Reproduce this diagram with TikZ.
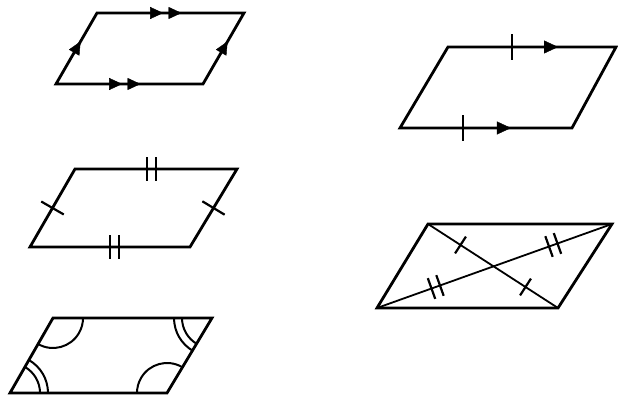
\documentclass[tikz,border=0pt]{standalone}
\usetikzlibrary{arrows.meta,decorations.markings}
\tikzset{
  edge/.style={line width=2.8pt, line join=miter},
  diag/.style={line width=1.8pt},
  anglearc/.style={line width=2pt},
  arrowat/.style={postaction={decorate,decoration={markings,
      mark=at position #1 with {\arrow{Triangle[length=13pt,width=12pt]}}}}},
  bigarrowat/.style={postaction={decorate,decoration={markings,
      mark=at position #1 with {\arrow{Triangle[length=14pt,width=13pt]}}}}},
  onetick/.style 2 args={postaction={decorate,decoration={markings,
      mark=at position #1 with {\draw[line width=2.2pt] (0,-#2) -- (0,#2);}}}},
  twotick/.style 2 args={postaction={decorate,decoration={markings,
      mark=at position #1 with {\draw[line width=2.2pt] (-4.5,-#2) -- (-4.5,#2) (4.5,-#2) -- (4.5,#2);}}}},
}
\begin{document}
\begin{tikzpicture}[x=1pt,y=1pt]
\useasboundingbox (0,0) rectangle (618,398);
% shape 1: arrows
\coordinate (A1) at (56,314); \coordinate (B1) at (203,314);
\coordinate (C1) at (244,385); \coordinate (D1) at (97,385);
\draw[edge] (A1) -- (B1) -- (C1) -- (D1) -- cycle;
\path[arrowat=0.45, arrowat=0.575] (A1) -- (B1);
\path[arrowat=0.45, arrowat=0.575] (D1) -- (C1);
\path[arrowat=0.6] (A1) -- (D1);
\path[arrowat=0.6] (B1) -- (C1);
% shape 2: one pair parallel and equal
\coordinate (A2) at (400,270); \coordinate (B2) at (572,270);
\coordinate (C2) at (616,351); \coordinate (D2) at (448,351);
\draw[edge] (A2) -- (B2) -- (C2) -- (D2) -- cycle;
\path[bigarrowat=0.645, onetick={0.366}{13}] (A2) -- (B2);
\path[bigarrowat=0.655, onetick={0.38}{13}] (D2) -- (C2);
% shape 3: opposite sides equal
\coordinate (A3) at (30,151); \coordinate (B3) at (190,151);
\coordinate (C3) at (237,229); \coordinate (D3) at (75,229);
\draw[edge] (A3) -- (B3) -- (C3) -- (D3) -- cycle;
\path[twotick={0.53}{12}] (A3) -- (B3);
\path[twotick={0.47}{12}] (D3) -- (C3);
\path[onetick={0.5}{13}] (A3) -- (D3);
\path[onetick={0.5}{13}] (B3) -- (C3);
% shape 4: diagonals bisect
\coordinate (A4) at (377,90); \coordinate (B4) at (558,90);
\coordinate (C4) at (612,174); \coordinate (D4) at (428,174);
\draw[edge] (A4) -- (B4) -- (C4) -- (D4) -- cycle;
\draw[diag, onetick={0.25}{10}, onetick={0.75}{10}] (D4) -- (B4);
\draw[diag, twotick={0.25}{11}, twotick={0.75}{11}] (A4) -- (C4);
% shape 5: opposite angles equal
\coordinate (A5) at (10,5); \coordinate (B5) at (167,5);
\coordinate (C5) at (212,80); \coordinate (D5) at (53,80);
\draw[edge] (A5) -- (B5) -- (C5) -- (D5) -- cycle;
\draw[anglearc] (D5) ++(240.2:30) arc[start angle=240.2, end angle=360, radius=30];
\draw[anglearc] (B5) ++(60.2:30) arc[start angle=60.2, end angle=180, radius=30];
\draw[anglearc] (A5) ++(0:30) arc[start angle=0, end angle=60.2, radius=30];
\draw[anglearc] (A5) ++(0:38) arc[start angle=0, end angle=60.2, radius=38];
\draw[anglearc] (C5) ++(180:30) arc[start angle=180, end angle=240.2, radius=30];
\draw[anglearc] (C5) ++(180:38) arc[start angle=180, end angle=240.2, radius=38];
\end{tikzpicture}
\end{document}
